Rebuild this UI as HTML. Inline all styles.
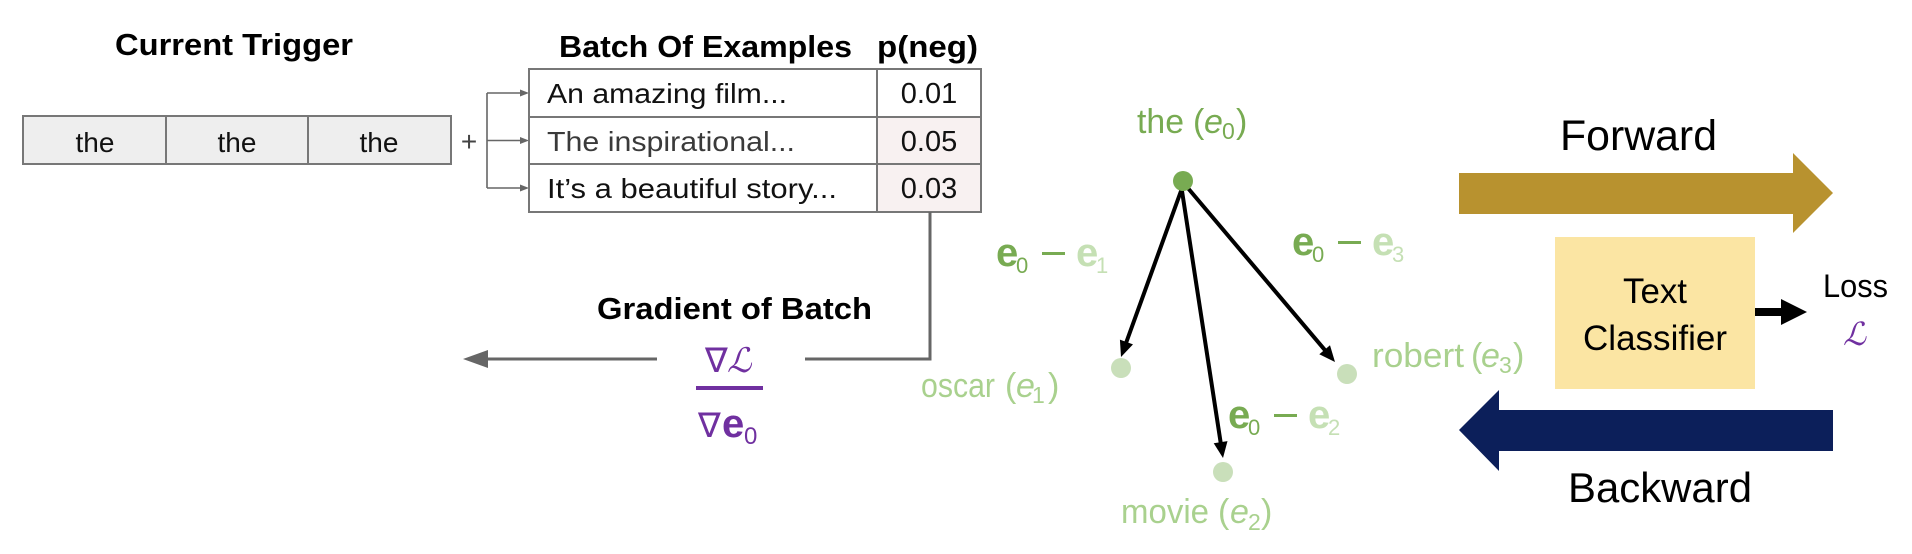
<!DOCTYPE html>
<html><head><meta charset="utf-8"><style>
html,body{margin:0;padding:0;background:#fff;}
svg{display:block;}
text{font-family:"Liberation Sans",sans-serif;}
</style></head><body>
<svg width="1912" height="554" viewBox="0 0 1912 554" xmlns="http://www.w3.org/2000/svg">
<rect width="1912" height="554" fill="#fff"/>

<!-- Current Trigger -->
<text x="115" y="55" font-size="31" font-weight="bold" textLength="238" lengthAdjust="spacingAndGlyphs" fill="#000">Current Trigger</text>
<rect x="23" y="116" width="428" height="48" fill="#eeeeee" stroke="#777" stroke-width="2"/>
<line x1="166" y1="116" x2="166" y2="164" stroke="#777" stroke-width="2"/>
<line x1="308" y1="116" x2="308" y2="164" stroke="#777" stroke-width="2"/>
<text x="95" y="152" font-size="28" text-anchor="middle" fill="#111">the</text>
<text x="237" y="152" font-size="28" text-anchor="middle" fill="#111">the</text>
<text x="379" y="152" font-size="28" text-anchor="middle" fill="#111">the</text>
<text x="469" y="151" font-size="28" text-anchor="middle" fill="#444">+</text>

<!-- bracket -->
<g stroke="#666" stroke-width="1.6" fill="none">
<line x1="487" y1="93" x2="487" y2="188"/>
<line x1="487" y1="93" x2="521" y2="93"/>
<line x1="487" y1="140.5" x2="521" y2="140.5"/>
<line x1="487" y1="188" x2="521" y2="188"/>
</g>
<g fill="#666">
<polygon points="529,93 520,89.5 520,96.5"/>
<polygon points="529,140.5 520,137 520,144"/>
<polygon points="529,188 520,184.5 520,191.5"/>
</g>

<!-- Table -->
<text x="559" y="57" font-size="31" font-weight="bold" textLength="293" lengthAdjust="spacingAndGlyphs" fill="#000">Batch Of Examples</text>
<text x="877" y="57" font-size="31" font-weight="bold" textLength="101" lengthAdjust="spacingAndGlyphs" fill="#000">p(neg)</text>
<rect x="877" y="117" width="104" height="95" fill="#f8f1f1"/>
<rect x="529" y="69" width="452" height="143" fill="none" stroke="#777" stroke-width="2"/>
<line x1="529" y1="117" x2="981" y2="117" stroke="#777" stroke-width="2"/>
<line x1="529" y1="164" x2="981" y2="164" stroke="#777" stroke-width="2"/>
<line x1="877" y1="69" x2="877" y2="212" stroke="#777" stroke-width="2"/>
<text x="547" y="103" font-size="28" textLength="240" lengthAdjust="spacingAndGlyphs" fill="#111">An amazing film...</text>
<text x="547" y="151" font-size="28" textLength="248" lengthAdjust="spacingAndGlyphs" fill="#3a3a3a">The inspirational...</text>
<text x="547" y="198" font-size="28" textLength="290" lengthAdjust="spacingAndGlyphs" fill="#111">It’s a beautiful story...</text>
<text x="929" y="103" font-size="29" text-anchor="middle" fill="#111">0.01</text>
<text x="929" y="151" font-size="29" text-anchor="middle" fill="#111">0.05</text>
<text x="929" y="198" font-size="29" text-anchor="middle" fill="#111">0.03</text>

<!-- gradient connector -->
<path d="M930 212 V359 H805" fill="none" stroke="#666" stroke-width="3"/>
<line x1="657" y1="359" x2="485" y2="359" stroke="#666" stroke-width="3"/>
<polygon points="463,359 488,350 488,368" fill="#666"/>
<text x="597" y="319" font-size="31" font-weight="bold" textLength="275" lengthAdjust="spacingAndGlyphs" fill="#000">Gradient of Batch</text>

<!-- fraction -->
<text x="705" y="372" font-size="34" font-family="DejaVu Sans, sans-serif" fill="#7030a0">∇</text>
<text x="727" y="372" font-size="34" font-family="DejaVu Sans, sans-serif" font-style="italic" fill="#7030a0">ℒ</text>
<rect x="696" y="386" width="67" height="4" fill="#7030a0"/>
<text x="698" y="437" font-size="34" font-family="DejaVu Sans, sans-serif" fill="#7030a0">∇</text>
<text x="722" y="437" font-size="40" font-family="Liberation Serif, serif" font-weight="bold" fill="#7030a0">e</text>
<text x="744" y="444" font-size="24" font-family="Liberation Sans, sans-serif" fill="#7030a0">0</text>

<!-- graph lines -->
<g stroke="#000" stroke-width="4" stroke-linecap="round">
<line x1="1181" y1="191" x2="1126.4" y2="342"/>
<line x1="1182" y1="191" x2="1220.6" y2="442.2"/>
<line x1="1187" y1="187" x2="1324.7" y2="349.8"/>
</g>
<g fill="#000">
<polygon points="1121,357 1133,344.4 1119.9,339.6"/>
<polygon points="1223,458 1227.5,441.1 1213.7,443.2"/>
<polygon points="1335,362 1330,345.3 1319.3,354.3"/>
</g>

<!-- nodes -->
<circle cx="1183" cy="181" r="10" fill="#78ab52"/>
<circle cx="1121" cy="368" r="10" fill="#c9dfba"/>
<circle cx="1223" cy="472" r="10" fill="#c9dfba"/>
<circle cx="1347" cy="374" r="10" fill="#c9dfba"/>

<!-- node labels -->
<g fill="#78ab52">
<text x="1137" y="133" font-size="34" textLength="47" lengthAdjust="spacingAndGlyphs">the</text>
<text x="1193" y="133" font-size="34">(</text>
<text x="1204" y="133" font-size="34" font-style="italic">e</text>
<text x="1222" y="139" font-size="23">0</text>
<text x="1236" y="133" font-size="34">)</text>
</g>
<g fill="#a9d18e">
<text x="921" y="397" font-size="34" textLength="74" lengthAdjust="spacingAndGlyphs">oscar</text>
<text x="1005" y="397" font-size="34">(</text>
<text x="1016" y="397" font-size="34" font-style="italic">e</text>
<text x="1032" y="403" font-size="23">1</text>
<text x="1048" y="397" font-size="34">)</text>

<text x="1121" y="523" font-size="34" textLength="88" lengthAdjust="spacingAndGlyphs">movie</text>
<text x="1218" y="523" font-size="34">(</text>
<text x="1230" y="523" font-size="34" font-style="italic">e</text>
<text x="1248" y="530" font-size="23">2</text>
<text x="1261" y="523" font-size="34">)</text>

<text x="1372" y="367" font-size="34" textLength="92" lengthAdjust="spacingAndGlyphs">robert</text>
<text x="1471" y="367" font-size="34">(</text>
<text x="1481" y="367" font-size="34" font-style="italic">e</text>
<text x="1499" y="373" font-size="23">3</text>
<text x="1513" y="367" font-size="34">)</text>
</g>

<!-- difference labels -->
<g font-family="Liberation Serif, serif">
<!-- e0 - e1 -->
<text x="996" y="266" font-size="40" font-weight="bold" fill="#78ab52">e</text>
<text x="1016" y="273" font-size="22" fill="#78ab52">0</text>
<rect x="1042" y="252" width="23" height="3" fill="#78ab52"/>
<text x="1076" y="266" font-size="40" font-weight="bold" fill="#c5e0b4">e</text>
<text x="1096" y="273" font-size="22" fill="#c5e0b4">1</text>
<!-- e0 - e3 -->
<text x="1292" y="255" font-size="40" font-weight="bold" fill="#78ab52">e</text>
<text x="1312" y="262" font-size="22" fill="#78ab52">0</text>
<rect x="1338" y="241" width="23" height="3" fill="#78ab52"/>
<text x="1372" y="255" font-size="40" font-weight="bold" fill="#c5e0b4">e</text>
<text x="1392" y="262" font-size="22" fill="#c5e0b4">3</text>
<!-- e0 - e2 -->
<text x="1228" y="428" font-size="40" font-weight="bold" fill="#78ab52">e</text>
<text x="1248" y="435" font-size="22" fill="#78ab52">0</text>
<rect x="1274" y="414" width="23" height="3" fill="#78ab52"/>
<text x="1308" y="428" font-size="40" font-weight="bold" fill="#c5e0b4">e</text>
<text x="1328" y="435" font-size="22" fill="#c5e0b4">2</text>
</g>

<!-- Forward / Backward -->
<text x="1560" y="150" font-size="43" textLength="157" lengthAdjust="spacingAndGlyphs" fill="#000">Forward</text>
<polygon points="1459,173 1793,173 1793,153 1833,193 1793,233 1793,214 1459,214" fill="#b8922f"/>
<rect x="1555" y="237" width="200" height="152" fill="#fbe5a3"/>
<text x="1655" y="303" font-size="35" text-anchor="middle" textLength="64" lengthAdjust="spacingAndGlyphs" fill="#000">Text</text>
<text x="1655" y="350" font-size="35" text-anchor="middle" textLength="144" lengthAdjust="spacingAndGlyphs" fill="#000">Classifier</text>
<rect x="1755" y="308" width="27" height="8" fill="#000"/>
<polygon points="1781,299 1807,312 1781,325" fill="#000"/>
<text x="1823" y="297" font-size="32" textLength="65" lengthAdjust="spacingAndGlyphs" fill="#000">Loss</text>
<text x="1843" y="345" font-size="32" font-family="DejaVu Sans, sans-serif" font-style="italic" fill="#7030a0">ℒ</text>
<polygon points="1833,410 1499,410 1499,390 1459,430 1499,471 1499,451 1833,451" fill="#0c1f5a"/>
<text x="1568" y="502" font-size="42" textLength="184" lengthAdjust="spacingAndGlyphs" fill="#000">Backward</text>
</svg>
</body></html>
